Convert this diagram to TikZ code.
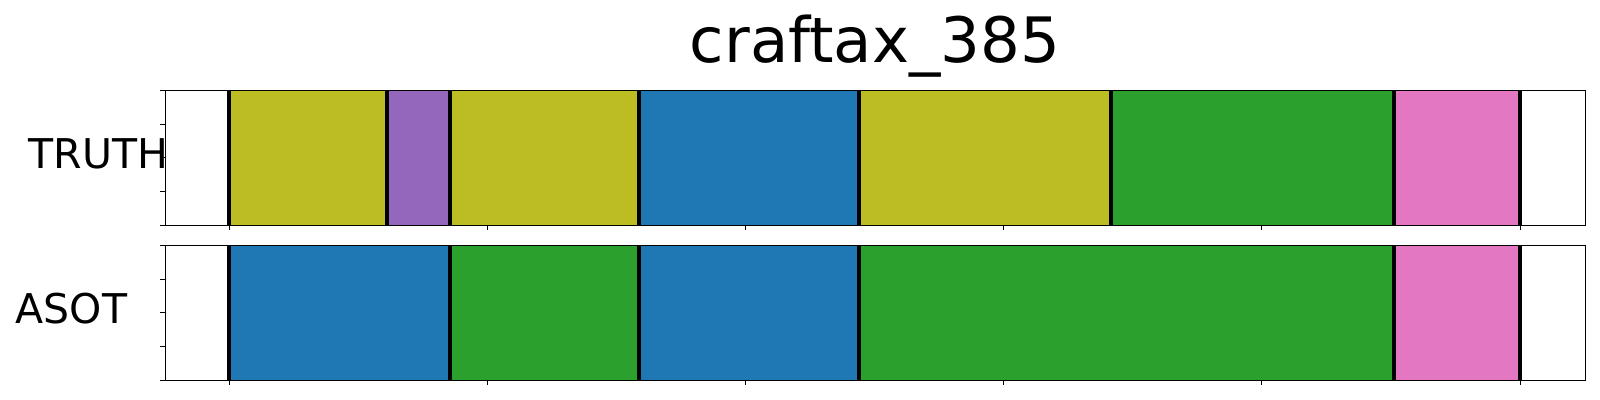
\documentclass[tikz,border=0pt]{standalone}
\usepackage{fontspec}
\setmainfont{DejaVu Sans}
\definecolor{tabolive}{HTML}{BCBD22}
\definecolor{tabpurple}{HTML}{9467BD}
\definecolor{tabblue}{HTML}{1F77B4}
\definecolor{tabgreen}{HTML}{2CA02C}
\definecolor{tabpink}{HTML}{E377C2}
\tikzset{
  seg/.style={draw=none},
  bound/.style={line width=2pt, black},
  frame/.style={line width=0.6pt, black},
  tick/.style={line width=0.5pt, black},
  lbl/.style={inner sep=0pt, font=\fontsize{20.5pt}{24pt}\selectfont, anchor=base west},
}
\begin{document}
\begin{tikzpicture}[x=0.5pt, y=-0.5pt]
\useasboundingbox (0,0) rectangle (1600,400);
% ---------- top axes (TRUTH): y 90.3 .. 225.3
\def\ta{90.3}\def\tb{225.3}
\fill[tabolive]  (229,\ta) rectangle (387,\tb);
\fill[tabpurple] (387,\ta) rectangle (450,\tb);
\fill[tabolive]  (450,\ta) rectangle (638.7,\tb);
\fill[tabblue]   (638.7,\ta) rectangle (858.7,\tb);
\fill[tabolive]  (858.7,\ta) rectangle (1111,\tb);
\fill[tabgreen]  (1111,\ta) rectangle (1393.7,\tb);
\fill[tabpink]   (1393.7,\ta) rectangle (1520,\tb);
\foreach \x in {229,387,450,638.7,858.7,1111,1393.7,1520}
  \draw[bound] (\x,\ta) -- (\x,\tb);
\draw[frame] (165.3,\ta) rectangle (1585.7,\tb);
\foreach \k in {0,...,4}
  \draw[tick] (165.3,{\ta+\k*33.75}) -- (160.3,{\ta+\k*33.75});
\foreach \k in {0,...,5}
  \draw[tick] ({229+\k*258.2},\tb) -- ({229+\k*258.2},{\tb+5});
% ---------- bottom axes (ASOT): y 245.3 .. 380.3
\def\ba{245.3}\def\bb{380.3}
\fill[tabblue]   (229,\ba) rectangle (450,\bb);
\fill[tabgreen]  (450,\ba) rectangle (638.7,\bb);
\fill[tabblue]   (638.7,\ba) rectangle (858.7,\bb);
\fill[tabgreen]  (858.7,\ba) rectangle (1393.7,\bb);
\fill[tabpink]   (1393.7,\ba) rectangle (1520,\bb);
\foreach \x in {229,450,638.7,858.7,1393.7,1520}
  \draw[bound] (\x,\ba) -- (\x,\bb);
\draw[frame] (165.3,\ba) rectangle (1585.7,\bb);
\foreach \k in {0,...,4}
  \draw[tick] (165.3,{\ba+\k*33.75}) -- (160.3,{\ba+\k*33.75});
\foreach \k in {0,...,5}
  \draw[tick] ({229+\k*258.2},\bb) -- ({229+\k*258.2},{\bb+5});
% ---------- texts
\node[inner sep=0pt, anchor=base, font=\fontsize{31.3pt}{36pt}\selectfont] (title) at (875,62.7) {craftax\_385};
\node[lbl] (truth) at (28.5,169) {TRUTH};
\node[lbl] (asot) at (15.3,323.3) {ASOT};
\end{tikzpicture}
\end{document}
